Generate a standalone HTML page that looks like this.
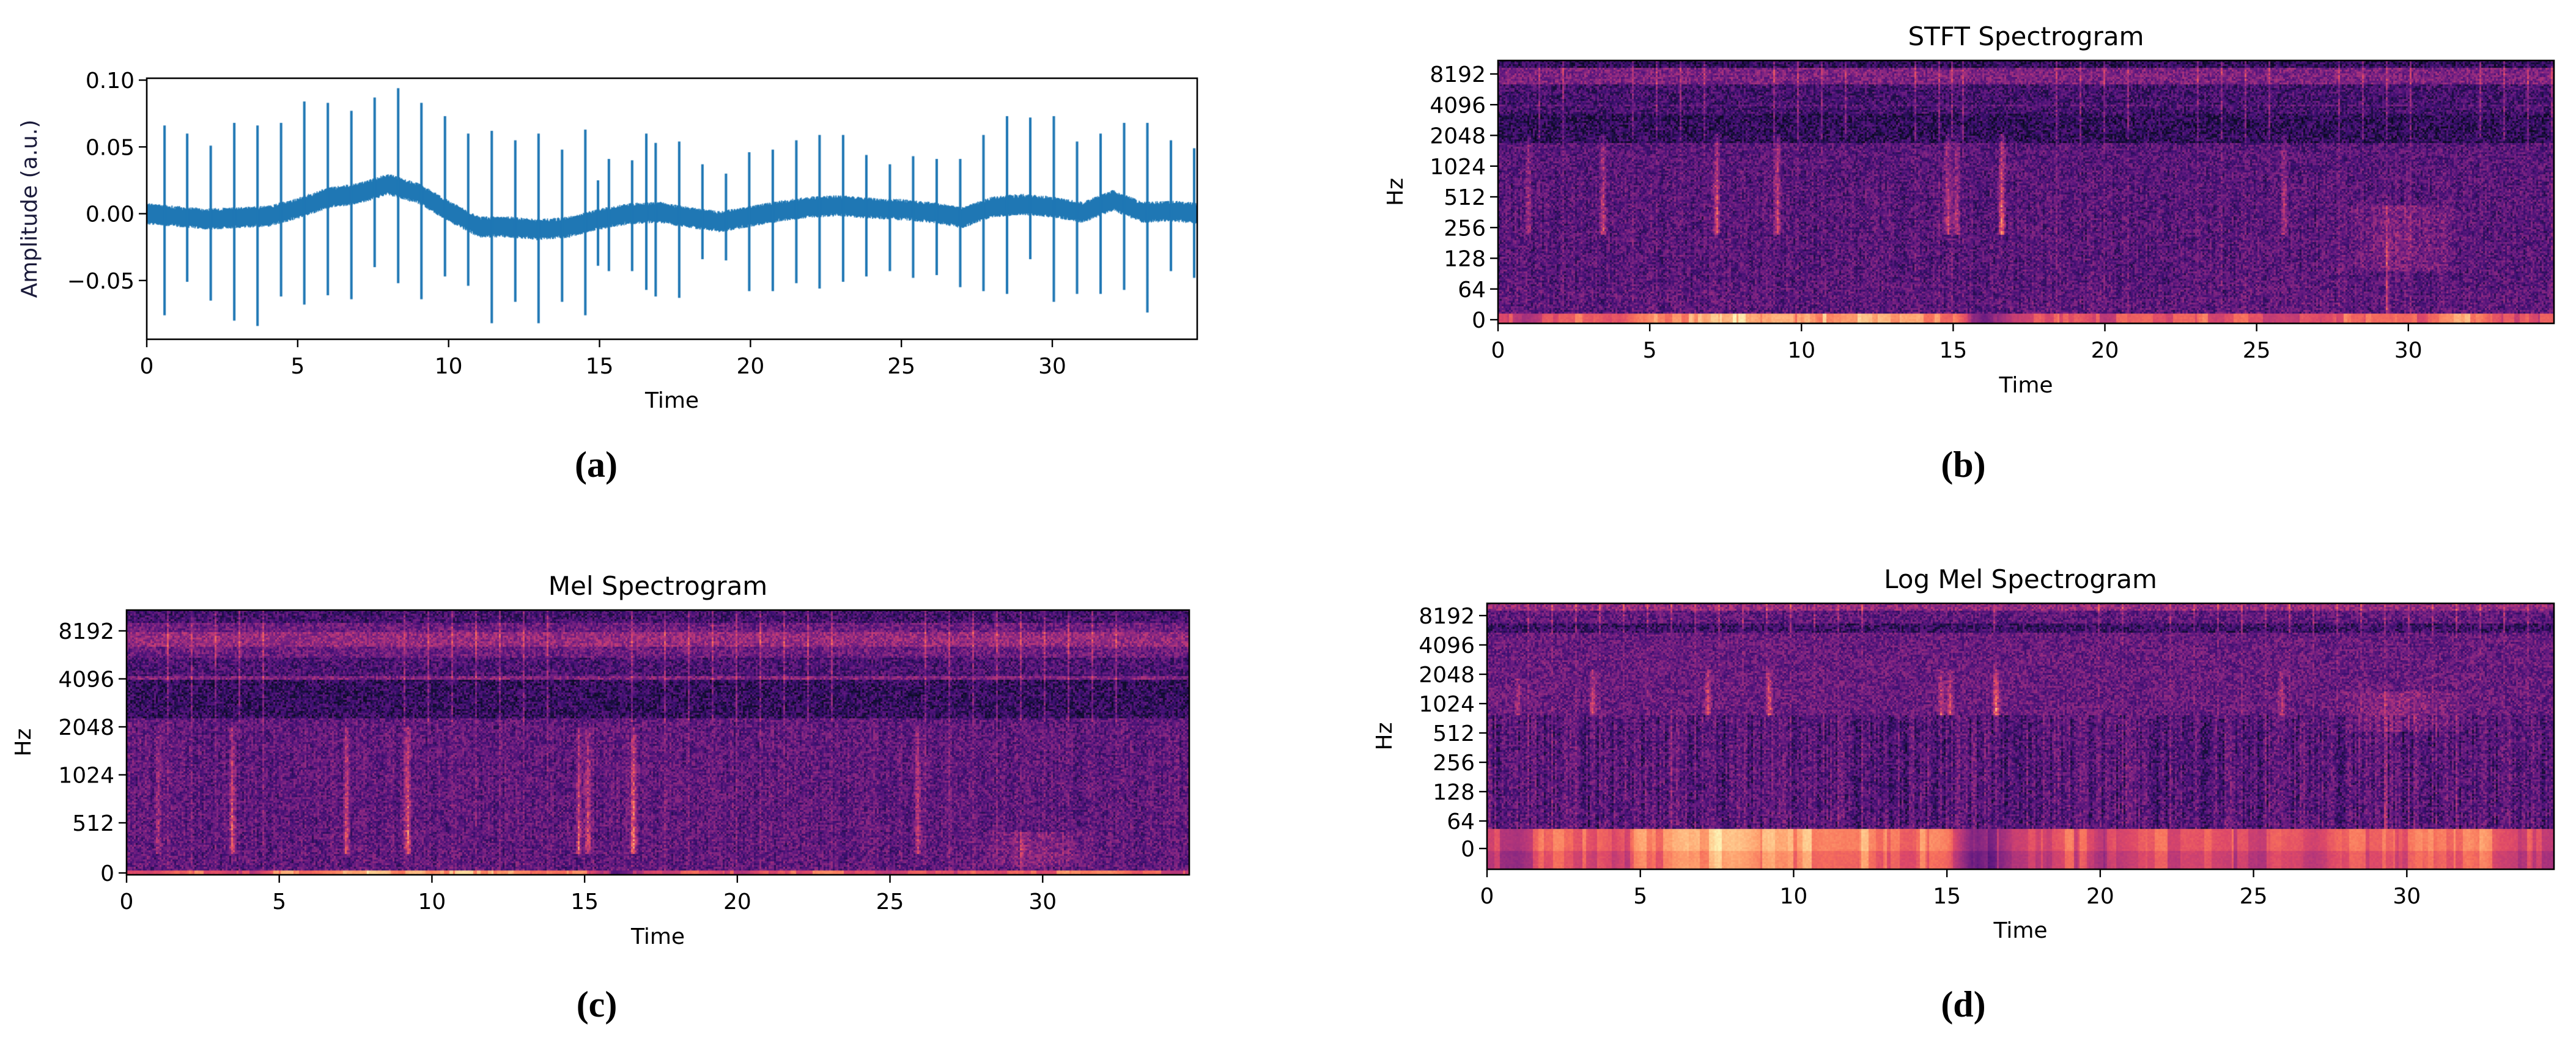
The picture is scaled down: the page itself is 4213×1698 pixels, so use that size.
<!DOCTYPE html>
<html><head><meta charset="utf-8">
<style>
html,body{margin:0;padding:0;background:#fff;}
body{width:4213px;height:1698px;position:relative;overflow:hidden;font-family:"DejaVu Sans","Liberation Sans",sans-serif;}
canvas{position:absolute;}
svg{position:absolute;left:0;top:0;}
</style></head>
<body>
<canvas id="cva" style="left:240px;top:128px" width="1718" height="427"></canvas>
<canvas id="cvb" style="left:2450px;top:99px" width="1727" height="430"></canvas>
<canvas id="cvc" style="left:207px;top:998px" width="1738" height="433"></canvas>
<canvas id="cvd" style="left:2432px;top:987px" width="1745" height="435"></canvas>
<svg id="ov" width="4213" height="1698"></svg>
<script>
// ---------------- data ----------------
const beatTimes=[0.59,1.34,2.12,2.90,3.67,4.45,5.22,6.00,6.78,7.55,8.33,9.10,9.88,10.65,11.43,12.21,12.98,13.76,14.53,14.95,15.31,16.08,16.55,16.86,17.64,18.41,19.19,19.96,20.74,21.52,22.29,23.07,23.84,24.62,25.39,26.17,26.95,27.72,28.50,29.27,30.05,30.82,31.60,32.38,33.15,33.93,34.70];
const beatPeaks=[.066,.060,.051,.068,.066,.068,.084,.083,.077,.087,.094,.083,.073,.060,.062,.055,.060,.048,.063,.025,.041,.040,.060,.053,.054,.037,.030,.046,.048,.055,.059,.059,.044,.037,.043,.041,.041,.059,.073,.072,.073,.054,.060,.068,.068,.055,.049];
const beatTroughs=[-.076,-.051,-.065,-.080,-.084,-.062,-.068,-.061,-.064,-.040,-.052,-.064,-.047,-.054,-.082,-.066,-.082,-.066,-.076,-.039,-.043,-.043,-.057,-.062,-.063,-.034,-.035,-.058,-.058,-.052,-.056,-.051,-.047,-.043,-.048,-.046,-.055,-.058,-.060,-.034,-.066,-.060,-.060,-.057,-.074,-.043,-.048];
const baselineSecs=[0,-.002,-.004,-.003,-.002,.004,.012,.015,.022,.015,.002,-.010,-.010,-.012,-.010,-.004,0,.001,-.003,-.006,-.002,.002,.005,.006,.004,.003,.001,-.003,.005,.007,.005,.001,.010,.001,.002,0];
const lowBandEnergy=[.65,.6,.75,.72,.6,.8,.82,.9,.97,.85,.85,.9,.88,.82,.8,.75,.35,.6,.65,.72,.6,.7,.72,.72,.68,.65,.7,.62,.75,.72,.7,.78,.85,.7,.65,.65];
const eventTimes=[1.0,3.45,7.2,9.2,14.8,15.1,16.6,25.9,29.3];
const eventAmps=[.2,.32,.34,.36,.3,.3,.42,.24,.4];
const xTicks=[0,5,10,15,20,25,30];
const yTicksA=["0.10","0.05","0.00","\u22120.05"];
const yValsA=[0.10,0.05,0.00,-0.05];
const yTicksB=["8192","4096","2048","1024","512","256","128","64","0"];
const yTicksC=["8192","4096","2048","1024","512","0"];
const yTicksD=["8192","4096","2048","1024","512","256","128","64","0"];
</script>
<script>
const TMAX=34.8;
let seed=12345;
function rnd(){seed=(seed*1664525+1013904223)>>>0;return seed/4294967296;}
function interp(arr,t){const i=Math.max(0,Math.min(arr.length-1.001,t));const a=Math.floor(i),f=i-a;return arr[a]*(1-f)+arr[Math.min(a+1,arr.length-1)]*f;}
const MAG=[[0,0,4],[20,14,54],[59,15,112],[100,26,128],[140,41,129],[183,55,121],[222,73,104],[247,112,92],[254,159,109],[254,207,146],[252,253,191]];
function magma(v){v=Math.max(0,Math.min(1,v))*10;const i=Math.min(9,Math.floor(v)),f=v-i;const a=MAG[i],b=MAG[i+1];return [a[0]+(b[0]-a[0])*f,a[1]+(b[1]-a[1])*f,a[2]+(b[2]-a[2])*f];}

// ---------- waveform ----------
(function(){
const cv=document.getElementById('cva'),ctx=cv.getContext('2d');
const W=cv.width,H=cv.height,YMAX=0.1014,YMIN=-0.094;
const sx=t=>t/TMAX*W, sy=v=>(YMAX-v)/(YMAX-YMIN)*H;
ctx.strokeStyle='#1f77b4';ctx.lineWidth=1.6;ctx.beginPath();
for(let x=0;x<W;x+=1){const t=x/W*TMAX;const b=interp(baselineSecs,t);
 for(let k=0;k<2;k++){const lo=b-0.005-rnd()*0.003,hi=b+0.005+rnd()*0.003;ctx.moveTo(x+k*0.5,sy(lo));ctx.lineTo(x+k*0.5,sy(hi));}}
ctx.stroke();
ctx.lineWidth=4;ctx.beginPath();
for(let i=0;i<beatTimes.length;i++){const x=sx(beatTimes[i]);ctx.moveTo(x,sy(beatTroughs[i]));ctx.lineTo(x,sy(beatPeaks[i]));}
ctx.stroke();
})();

// ---------- spectrograms ----------
function spec(id,prof,evRange,patchRange,bandStart,beatTop,stripes,lineExtras){
 const cv=document.getElementById(id),ctx=cv.getContext('2d');const W=cv.width,H=cv.height;
 const img=ctx.createImageData(W,H);const C=3;
 const cols=Math.ceil(W/C),rows=Math.ceil(H/C);
 const colOff=[];for(let i=0;i<cols;i++)colOff.push((rnd()-0.5)*(stripes?0.16:0.07));
 const bandOff=[];let bo=0;for(let i=0;i<cols;i++){if(rnd()<0.25)bo=(rnd()-0.5)*0.2;bandOff.push(bo);}
 for(let cx=0;cx<cols;cx++){const t=(cx*C+1)/W*TMAX;
  for(let cy=0;cy<rows;cy++){const f=(cy*C+1)/H;let v;
   if(f>=bandStart){v=interp(lowBandEnergy,t)*0.92+bandOff[cx]+(rnd()-0.5)*0.04;
     if(bandStart<0.9&&f>0.93)v-=0.06;}
   else{let base=0.28;for(const p of prof){if(f>=p[0]&&f<p[1]){base=p[2];break;}}
    v=base+(rnd()-0.5)*0.24;
    if(f>0.42)v+=colOff[cx];
    for(const bt of beatTimes){if(Math.abs(t-bt)<0.02){v+= f<beatTop?0.17:0.05;}}
    for(const ln of lineExtras){if(Math.abs(f-ln[0])<ln[1])v+=ln[2];}
    for(let i=0;i<eventTimes.length;i++){const d=Math.abs(t-eventTimes[i]);
      let f0=evRange[0],f1=evRange[1];if(i===eventTimes.length-1){f0=patchRange[0];f1=bandStart;}
      const w=i===eventTimes.length-1?0.05:0.14;
      if(d<w&&f>=f0&&f<=f1){v+=eventAmps[i]*(1-d/w)*(0.5+0.6*(f-f0)/(f1-f0))*(0.7+rnd()*0.5);}}
    if(t>27.6&&t<32&&f>=patchRange[0]&&f<=patchRange[1])v+=0.1*Math.sin(Math.PI*(t-27.6)/4.4)*(0.5+rnd()*0.7);
   }
   const c=magma(v);
   for(let dy=0;dy<C;dy++)for(let dx=0;dx<C;dx++){const px=cx*C+dx,py=cy*C+dy;if(px>=W||py>=H)continue;const k=(py*W+px)*4;img.data[k]=c[0];img.data[k+1]=c[1];img.data[k+2]=c[2];img.data[k+3]=255;}
  }}
 ctx.putImageData(img,0,0);
}
spec('cvb',[[0,.03,.17],[.03,.09,.36],[.09,.2,.22],[.2,.31,.17],[.31,.85,.27],[.85,.96,.28]],[.28,.66],[.55,.8],.963,.3,false,[[.17,.004,.05]]);
spec('cvc',[[0,.05,.22],[.05,.08,.32],[.08,.14,.42],[.14,.18,.32],[.18,.25,.24],[.25,.265,.38],[.265,.41,.18],[.41,.98,.29]],[.44,.92],[.84,.97],.982,.42,false,[]);
spec('cvd',[[0,.025,.42],[.025,.075,.29],[.075,.11,.2],[.11,.42,.31],[.42,.846,.27]],[.25,.42],[.33,.48],.846,.11,true,[]);

// ---------- axes overlay ----------
const NS='http://www.w3.org/2000/svg';const ov=document.getElementById('ov');
function el(tag,attrs,txt){const e=document.createElementNS(NS,tag);for(const k in attrs)e.setAttribute(k,attrs[k]);if(txt!==undefined)e.textContent=txt;ov.appendChild(e);return e;}
function axes(p){
 const fr=el('rect',{x:p.x0,y:p.y0,width:p.x1-p.x0,height:p.y1-p.y0,fill:'none',stroke:'#000','stroke-width':2.6});
 
 const sc=(p.x1-p.x0)/TMAX;
 for(const t of xTicks){const x=p.x0+t*sc;
  const tk=el('line',{x1:x,x2:x,y1:p.y1,y2:p.y1+13,stroke:'#000','stroke-width':2.4});
  
  const tl=el('text',{x:x,y:p.y1+56,'text-anchor':'middle','font-size':36,fill:'#000'},String(t));
  }
 p.yt.forEach((lab,i)=>{const y=p.ypos(i);
  const tk=el('line',{x1:p.x0-13,x2:p.x0,y1:y,y2:y,stroke:'#000','stroke-width':2.4});
  
  const tl=el('text',{x:p.x0-20,y:y+13,'text-anchor':'end','font-size':36,fill:'#000'},lab);
  });
 const xl=el('text',{x:(p.x0+p.x1)/2,y:p.xly,'text-anchor':'middle','font-size':36,fill:'#000'},'Time');
 
 const yl=el('text',{x:p.ylx,y:(p.y0+p.y1)/2,'text-anchor':'middle','font-size':36,fill:p.ylc||'#000',transform:'rotate(-90 '+p.ylx+' '+(p.y0+p.y1)/2+')'},p.ylab);
 
 if(p.title){const ti=el('text',{x:(p.x0+p.x1)/2,y:p.ty,'text-anchor':'middle','font-size':42,fill:'#000'},p.title);
  }
 const cap=el('text',{x:p.capx,y:p.capy,'text-anchor':'middle','font-size':60,'font-weight':'bold','font-family':'Liberation Serif, serif',fill:'#000'},'('+p.cap+')');
 
}
axes({n:'waveform',x0:240,x1:1958,y0:128,y1:555,yt:yTicksA,ypos:i=>128+(0.1014-yValsA[i])/(0.1954)*427,xly:667,ylx:60,ylab:'Amplitude (a.u.)',ylc:'#1a1a3a',capx:975,capy:780,cap:'a'});
axes({n:'stft',x0:2450,x1:4177,y0:99,y1:529,yt:yTicksB,ypos:i=>121+i*50.25,xly:642,ylx:2294,ylab:'Hz',title:'STFT Spectrogram',ty:74,capx:3211,capy:780,cap:'b'});
axes({n:'mel',x0:207,x1:1945,y0:998,y1:1431,yt:yTicksC,ypos:i=>i<5?1032+i*78.5:1428,xly:1544,ylx:50,ylab:'Hz',title:'Mel Spectrogram',ty:973,capx:976,capy:1663,cap:'c'});
axes({n:'logmel',x0:2432,x1:4177,y0:987,y1:1422,yt:yTicksD,ypos:i=>i<8?1007+i*48:1388,xly:1534,ylx:2276,ylab:'Hz',title:'Log Mel Spectrogram',ty:962,capx:3211,capy:1663,cap:'d'});
</script>
</body></html>
